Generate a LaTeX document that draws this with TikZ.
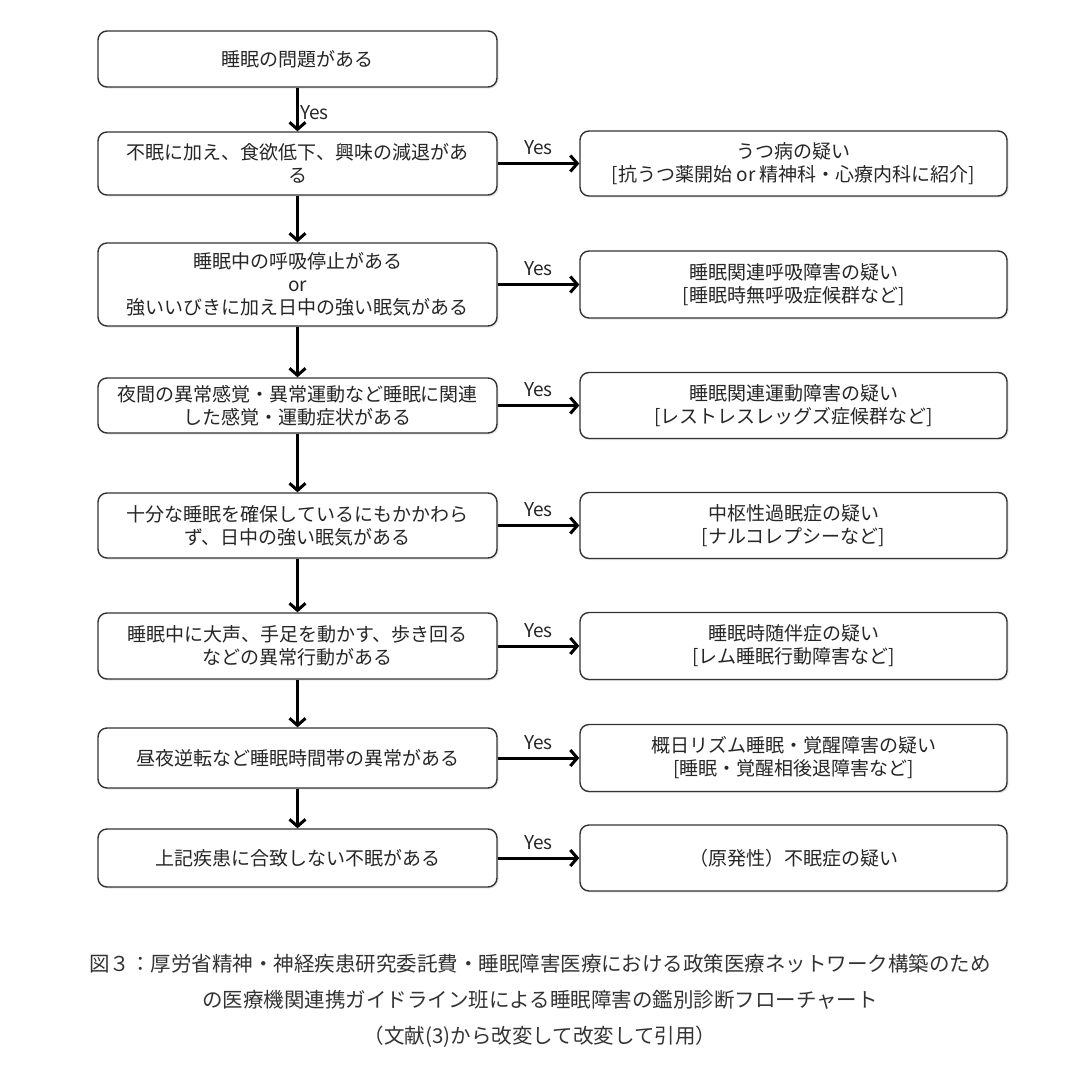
\documentclass[tikz,border=0pt]{standalone}
\usepackage{fontspec}
\setmainfont{Noto Sans CJK JP}
\usetikzlibrary{positioning,shadows,arrows.meta}

\begin{document}
\begin{tikzpicture}[x=1pt,y=-1pt,
  qbox/.style={draw=black!80, line width=1.4pt, rounded corners=9pt, fill=white,
    align=center, inner sep=0pt, minimum width=399pt, text=black!85,
    font=\fontsize{19}{23}\selectfont,
    drop shadow={opacity=0.2,shadow xshift=1.5pt,shadow yshift=-1.5pt}},
  dbox/.style={qbox, minimum width=427pt},
  flow/.style={line width=3pt, -{Straight Barb[length=7pt,width=16pt]}},
  yes/.style={font=\fontsize{19}{20}\selectfont, text=black!85, inner sep=1pt}]
  \useasboundingbox (0,0) rectangle (1090,1074);
  % question column
  \node[qbox, minimum height=56pt] (q0) at (297.5,59) {睡眠の問題がある};
  \node[qbox, minimum height=63pt] (q1) at (297.5,163.5) {不眠に加え、食欲低下、興味の減退があ\\る};
  \node[qbox, minimum height=83pt] (q2) at (297.5,284.5) {睡眠中の呼吸停止がある\\or\\強いいびきに加え日中の強い眠気がある};
  \node[qbox, minimum height=55pt] (q3) at (297.5,405.5) {夜間の異常感覚・異常運動など睡眠に関連\\した感覚・運動症状がある};
  \node[qbox, minimum height=65pt] (q4) at (297.5,525.5) {十分な睡眠を確保しているにもかかわら\\ず、日中の強い眠気がある};
  \node[qbox, minimum height=66pt] (q5) at (297.5,646) {睡眠中に大声、手足を動かす、歩き回る\\などの異常行動がある};
  \node[qbox, minimum height=60pt] (q6) at (297.5,758) {昼夜逆転など睡眠時間帯の異常がある};
  \node[qbox, minimum height=58pt] (q7) at (297.5,858) {上記疾患に合致しない不眠がある};
  % diagnosis column
  \node[dbox, minimum height=65pt] (d1) at (793.5,163.5) {うつ病の疑い\\{}[抗うつ薬開始 or 精神科・心療内科に紹介]};
  \node[dbox, minimum height=67pt] (d2) at (793.5,284.5) {睡眠関連呼吸障害の疑い\\{}[睡眠時無呼吸症候群など]};
  \node[dbox, minimum height=66pt] (d3) at (793.5,405.5) {睡眠関連運動障害の疑い\\{}[レストレスレッグズ症候群など]};
  \node[dbox, minimum height=66pt] (d4) at (793.5,525.5) {中枢性過眠症の疑い\\{}[ナルコレプシーなど]};
  \node[dbox, minimum height=67pt] (d5) at (793.5,646) {睡眠時随伴症の疑い\\{}[レム睡眠行動障害など]};
  \node[dbox, minimum height=67pt] (d6) at (793.5,758) {概日リズム睡眠・覚醒障害の疑い\\{}[睡眠・覚醒相後退障害など]};
  \node[dbox, minimum height=66pt] (d7) at (793.5,858) {（原発性）不眠症の疑い};
  % arrows
  \draw[flow] (q0) -- node[yes, right, yshift=-3pt] {Yes} (q1);
  \draw[flow] (q1) -- (q2);
  \draw[flow] (q2) -- (q3);
  \draw[flow] (q3) -- (q4);
  \draw[flow] (q4) -- (q5);
  \draw[flow] (q5) -- (q6);
  \draw[flow] (q6) -- (q7);
  \draw[flow] (q1) -- node[yes, above=6pt] {Yes} (d1);
  \draw[flow] (q2) -- node[yes, above=6pt] {Yes} (d2);
  \draw[flow] (q3) -- node[yes, above=6pt] {Yes} (d3);
  \draw[flow] (q4) -- node[yes, above=6pt] {Yes} (d4);
  \draw[flow] (q5) -- node[yes, above=6pt] {Yes} (d5);
  \draw[flow] (q6) -- node[yes, above=6pt] {Yes} (d6);
  \draw[flow] (q7) -- node[yes, above=6pt] {Yes} (d7);
  % caption
  \node[font=\fontsize{20.5}{36}\selectfont, align=center, text=black!80] (cap) at (540,1001)
    {図３：厚労省精神・神経疾患研究委託費・睡眠障害医療における政策医療ネットワーク構築のため\\
     の医療機関連携ガイドライン班による睡眠障害の鑑別診断フローチャート\\
     （文献(3)から改変して改変して引用）};
\end{tikzpicture}
\end{document}
